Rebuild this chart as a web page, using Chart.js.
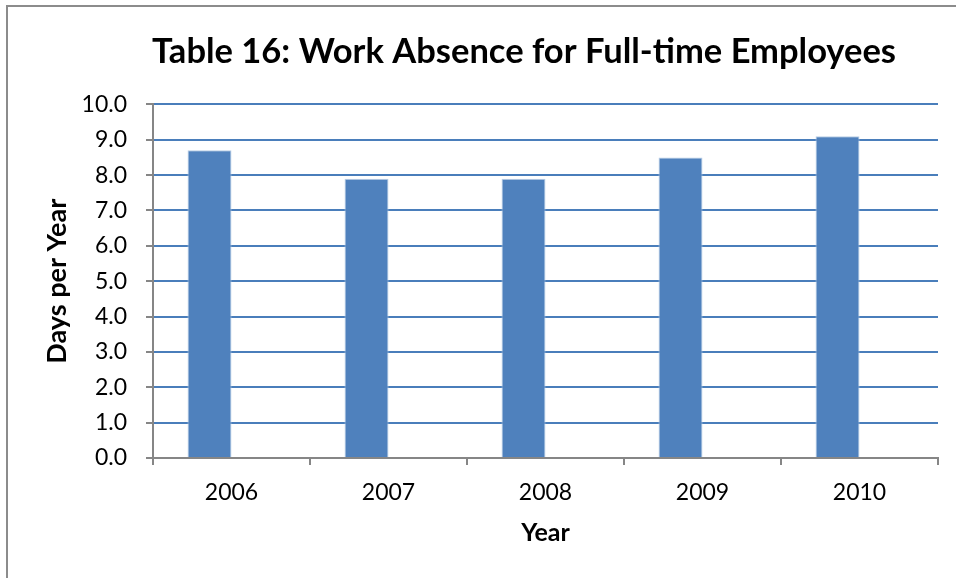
<!DOCTYPE html>
<html>
<head>
<meta charset="utf-8">
<script src="https://cdn.jsdelivr.net/npm/chart.js@4.4.1/dist/chart.umd.min.js"></script>
<style>
  html, body { margin: 0; padding: 0; background: #fff; }
  #wrap { position: relative; width: 956px; height: 578px; }
  #frame {
    position: absolute; left: 6px; top: 5px; right: 0; bottom: 0;
    border-left: 2px solid #8c8c8c; border-top: 2px solid #8c8c8c;
    pointer-events: none;
  }
</style>
</head>
<body>
<div id="wrap">
  <canvas id="chart" width="956" height="578"></canvas>
  <div id="frame"></div>
</div>
<script>
const years = ['2006', '2007', '2008', '2009', '2010'];
const daysPerYear = [8.7, 7.9, 7.9, 8.5, 9.1];
// the source chart reserves a slot for a second, empty series (bars sit left of centre)
const emptySeries = [null, null, null, null, null];
const yTicks = [0, 1, 2, 3, 4, 5, 6, 7, 8, 9, 10];

const blue = '#4f81bd';
const gridBlue = '#4a7ebb';
const axisGray = '#868686';
const font = 'Lato, Carlito, "Open Sans", sans-serif';

// nudge the title box so it is centred like the original
const titleShift = {
  id: 'titleShift',
  afterLayout: function (chart) {
    if (chart.titleBlock) chart.titleBlock.left = 110;
  }
};

const ctx = document.getElementById('chart').getContext('2d');

new Chart(ctx, {
  type: 'bar',
  data: {
    labels: years,
    datasets: [{
      label: 'Days per Year',
      data: daysPerYear,
      backgroundColor: blue,
      borderColor: '#b9cde5',
      borderWidth: 1
    }, {
      label: '',
      data: emptySeries,
      backgroundColor: 'rgba(0,0,0,0)'
    }]
  },
  options: {
    responsive: false,
    animation: false,
    datasets: { bar: { categoryPercentage: 0.56, barPercentage: 1 } },
    layout: { padding: { left: 0, right: 18, top: 0, bottom: 0 } },
    plugins: {
      legend: { display: false },
      tooltip: { enabled: false },
      title: {
        display: true,
        text: 'Table 16: Work Absence for Full-time Employees',
        color: '#000',
        font: { family: font, size: 34.5, weight: 'bold', lineHeight: 1.2 },
        padding: { top: 31, bottom: 32 }
      }
    },
    scales: {
      x: {
        afterFit: function (scale) { scale.height = 120; },
        grid: {
          offset: true,
          drawOnChartArea: true,
          color: function (c) { return c.index === years.length ? gridBlue : 'rgba(0,0,0,0)'; },
          lineWidth: 2,
          tickColor: axisGray,
          tickLength: 7
        },
        border: { color: axisGray, width: 2 },
        ticks: {
          color: '#000',
          padding: 14,
          font: { family: font, size: 23 }
        },
        title: {
          display: true,
          text: 'Year',
          color: '#000',
          font: { family: font, size: 25, weight: 'bold', lineHeight: 1.2 },
          padding: { top: 10, bottom: 30 }
        }
      },
      y: {
        min: 0,
        max: 10,
        afterFit: function (scale) { scale.width = 153; },
        afterBuildTicks: function (scale) { scale.ticks = yTicks.map(v => ({ value: v })); },
        grid: {
          color: gridBlue,
          lineWidth: 2,
          tickColor: axisGray,
          tickLength: 7
        },
        border: { color: axisGray, width: 2 },
        ticks: {
          color: '#000',
          padding: 19,
          font: { family: font, size: 23 },
          callback: function (v) { return Number(v).toFixed(1); }
        },
        title: {
          display: true,
          text: 'Days per Year',
          color: '#000',
          font: { family: font, size: 27, weight: 'bold', lineHeight: 1.2 },
          padding: { top: 41, bottom: 10 }
        }
      }
    }
  },
  plugins: [titleShift]
});
</script>
</body>
</html>
